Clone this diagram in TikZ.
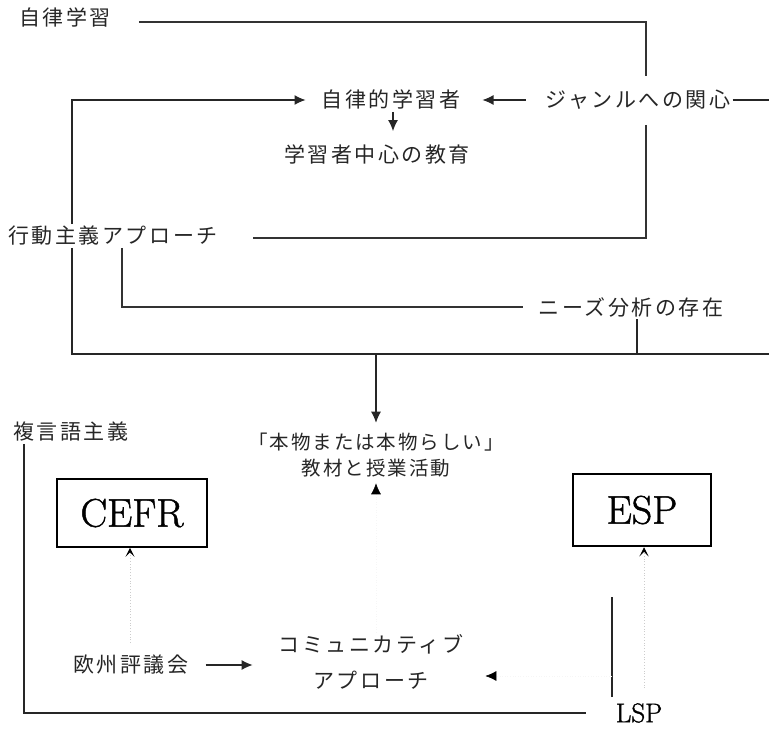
\documentclass[tikz,border=0pt]{standalone}
\usepackage{fontspec}
\usetikzlibrary{arrows.meta,calc}
\newfontfamily\jpf[LetterSpace=12]{Noto Sans CJK JP}
\newfontfamily\jpg[LetterSpace=10]{Noto Sans CJK JP}
\newfontfamily\lmb[FakeBold=1.2]{Latin Modern Roman}
\begin{document}
\begin{tikzpicture}[x=1pt,y=-1pt,
  jt/.style={font=\jpf\fontsize{21}{24}\selectfont, inner sep=2pt, text=black!85},
  jts/.style={font=\jpg\fontsize{19.5}{26}\selectfont, inner sep=2pt, align=center, text=black!85},
  bigbox/.style={draw, font=\lmb\fontsize{40}{44}\selectfont, inner sep=0pt},
  dbl/.style={draw=black!80, line width=2.2pt},
  plain/.style={draw=black!85, line width=1.1pt},
  arr/.style={plain, -{Latex[length=11pt,width=10pt]}},
  faint/.style={draw=gray!40, line width=0.8pt, dotted},
  fainttip/.style={faint, -{Stealth[length=9pt,width=9pt,inset=4.5pt,color=black]}},
  ghost/.style={draw=gray!7, line width=0.6pt, dotted, -{Latex[length=11pt,width=10pt,color=black]}}
]
\useasboundingbox (0,0) rectangle (769,730);

% nodes
\node[jt] (jiritsu) at (65,18) {自律学習};
\node[jt] (jlearner) at (391,100) {自律的学習者};
\node[jt] (center) at (377,155) {学習者中心の教育};
\node[jt] (genre) at (638,100) {ジャンルへの関心};
\node[jt] (koudou) at (113,236) {行動主義アプローチ};
\node[jt] (needs) at (631,307) {ニーズ分析の存在};
\node[jts] (honmono) at (376,455) {「本物または本物らしい」\\教材と授業活動};
\node[jt] (fukugen) at (71,432) {複言語主義};
\node[bigbox, line width=1.6pt, minimum width=150pt, minimum height=68pt] (cefr) at (132,513) {CEFR};
\node[bigbox, line width=2.5pt, minimum width=138pt, minimum height=72pt] (esp) at (642,510) {ESP};
\node[jt] (oushu) at (131,665) {欧州評議会};
\node[jt, align=center, font=\jpf\fontsize{21}{36}\selectfont] (comm) at (371,662) {コミュニカティブ\\アプローチ};
\node[font=\lmb\fontsize{27}{29}\selectfont, inner sep=1pt] (lsp) at (639,713) {LSP};

\coordinate (L) at (72,354);
\coordinate (R) at (769,354);
\coordinate (GR) at (769,100);
\coordinate (lspTop) at (612,697);

% thick line from 自律学習 around to 行動主義アプローチ
\draw[dbl] ([xshift=26pt]jiritsu.east |- 0,22) -- (646,22) -- (646,76);
\draw[dbl] (646,125) -- (646,238) -- ([xshift=33pt]koudou.east |- 0,238);

% 行動主義 -> 自律的学習者
\draw[arr, shorten >=14pt] (koudou.north -| L) |- (jlearner.west);
% 行動主義 -> big horizontal line
\draw[plain] (koudou.south -| L) -- (L) -- (R);
% ニーズ -> horizontal line
\draw[plain] (needs.south -| 637,0) -- (637,354);
% horizontal -> 本物
\draw[arr, shorten >=8pt] (376,354) -- (honmono.north);

% 行動主義 -> ニーズ
\draw[dbl, shorten >=14pt] (koudou.south -| 122,0) |- (needs.west);

% 自律的学習者 -> 学習者中心
\draw[arr, shorten >=12pt] (jlearner.south -| 393,0) -- (center.north -| 393,0);
% ジャンル -> 自律的学習者
\draw[arr, shorten <=18pt, shorten >=20pt] (genre.west) -- (jlearner.east);
\draw[plain] (genre.east) -- (GR);

% 複言語主義 -> LSP
\draw[draw=black!85, line width=1.6pt, shorten >=29pt] (fukugen.south -| 24,0) |- (lsp.west);
% LSP vertical
\draw[plain] (lspTop) -- (612,597);
% LSP -> ESP
\draw[fainttip, shorten <=14pt] (lsp.north -| 644,0) -- (esp.south -| 644,0);
% 欧州評議会 -> CEFR
\draw[fainttip, shorten <=10pt] (oushu.north -| 130,0) -- (cefr.south -| 130,0);
% 欧州評議会 -> コミュニカティブ
\draw[arr, shorten <=15pt, shorten >=24pt] (oushu.east) -- (oushu.east -| comm.west);
% コミュニカティブ -> 本物
\draw[ghost, shorten >=4pt] (comm.north -| 376,0) -- (honmono.south -| 376,0);
% LSP -> コミュニカティブ
\draw[ghost, shorten >=20pt] (612,676) -- (comm.east |- 0,676);
\end{tikzpicture}
\end{document}
